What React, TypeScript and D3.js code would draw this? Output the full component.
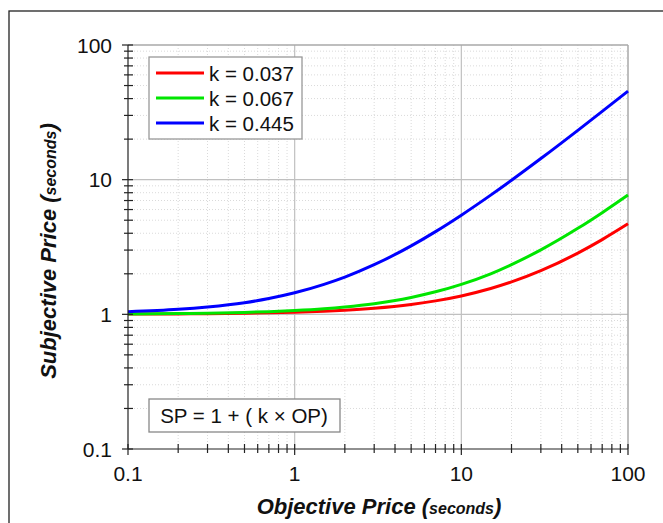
import * as d3 from "d3";

// objective price samples (seconds) and subjective price
const opValues = [0.1, 0.2, 0.3, 0.5, 0.7, 1, 1.5, 2, 3, 5, 7, 10, 15, 20, 30, 50, 70, 100];
const spK037 = [1.004, 1.007, 1.011, 1.019, 1.026, 1.037, 1.056, 1.074, 1.111, 1.185, 1.259, 1.37, 1.555, 1.74, 2.11, 2.85, 3.59, 4.7];
const spK067 = [1.007, 1.013, 1.02, 1.034, 1.047, 1.067, 1.1, 1.134, 1.2, 1.335, 1.47, 1.67, 2.0, 2.34, 3.01, 4.35, 5.69, 7.7];
const spK445 = [1.045, 1.089, 1.134, 1.22, 1.31, 1.445, 1.67, 1.89, 2.335, 3.225, 4.115, 5.45, 7.675, 9.9, 14.35, 23.25, 32.15, 45.5];

const seriesNames = ["k = 0.037", "k = 0.067", "k = 0.445"];
const seriesColors = ["#ff0000", "#00e600", "#0000ff"];
const seriesValues = [spK037, spK067, spK445];

const majorTicks = [0.1, 1, 10, 100];
const tickLabels = ["0.1", "1", "10", "100"];

const W = 663;
const H = 523;
const left = 128, right = 628, top = 45, bottom = 449;

export default function App() {
  const x = d3.scaleLog().domain([0.1, 100]).range([left, right]);
  const y = d3.scaleLog().domain([0.1, 100]).range([bottom, top]);

  const minorTicks: number[] = [];
  for (const d of [0.1, 1, 10]) for (let m = 2; m <= 9; m++) minorTicks.push(d * m);

  const line = d3
    .line<number>()
    .x((_, i) => x(opValues[i]))
    .y((d) => y(d))
    .curve(d3.curveMonotoneX);

  const font = "Arial, 'Liberation Sans', Helvetica, sans-serif";

  return (
    <svg
      width={W}
      height={H}
      style={{ position: "absolute", left: 0, top: 0, background: "#fff" }}
      fontFamily={font}
    >
      {/* outer frame, cut off at right and bottom */}
      <rect x={9} y={11} width={700} height={600} fill="none" stroke="#222" strokeWidth={1.3} />

      {/* grid */}
      <g>
        {minorTicks.map((t) => (
          <line key={"gx" + t} x1={x(t)} x2={x(t)} y1={top} y2={bottom} stroke="#dadada" strokeDasharray="1,2" />
        ))}
        {minorTicks.map((t) => (
          <line key={"gy" + t} y1={y(t)} y2={y(t)} x1={left} x2={right} stroke="#dadada" strokeDasharray="1,2" />
        ))}
        {majorTicks.slice(1, 3).map((t) => (
          <line key={"mx" + t} x1={x(t)} x2={x(t)} y1={top} y2={bottom} stroke="#c0c0c0" strokeWidth={1.2} />
        ))}
        {majorTicks.slice(1, 3).map((t) => (
          <line key={"my" + t} y1={y(t)} y2={y(t)} x1={left} x2={right} stroke="#c0c0c0" strokeWidth={1.2} />
        ))}
        <line x1={left} x2={right} y1={top} y2={top} stroke="#a8a8a8" strokeWidth={1.5} />
        <line x1={right} x2={right} y1={top} y2={bottom} stroke="#a8a8a8" strokeWidth={1.5} />
      </g>

      {/* curves */}
      {seriesValues.map((vals, i) => (
        <path key={i} d={line(vals) || ""} fill="none" stroke={seriesColors[i]} strokeWidth={3} />
      ))}

      {/* axes */}
      <g stroke="#222" strokeWidth={1.2}>
        <line x1={left} x2={left} y1={top} y2={bottom} />
        {majorTicks.map((t) => (
          <line key={"yt" + t} x1={left - 6} x2={left + 5} y1={y(t)} y2={y(t)} />
        ))}
        {minorTicks.map((t) => (
          <line key={"ym" + t} x1={left - 4} x2={left + 5} y1={y(t)} y2={y(t)} />
        ))}
        <line x1={left} x2={right} y1={bottom} y2={bottom} />
        {majorTicks.map((t) => (
          <line key={"xt" + t} y1={bottom - 5} y2={bottom + 6} x1={x(t)} x2={x(t)} />
        ))}
        {minorTicks.map((t) => (
          <line key={"xm" + t} y1={bottom - 5} y2={bottom + 4} x1={x(t)} x2={x(t)} />
        ))}
      </g>

      <g fontSize={21} fill="#111">
        {majorTicks.map((t, i) => (
          <text key={"yl" + t} x={left - 16} y={y(t) + 7.5} textAnchor="end">
            {tickLabels[i]}
          </text>
        ))}
        {majorTicks.map((t, i) => (
          <text key={"xl" + t} x={x(t)} y={481} textAnchor="middle">
            {tickLabels[i]}
          </text>
        ))}
      </g>

      {/* axis titles */}
      <text x={379} y={514} textAnchor="middle" fontWeight="bold" fontStyle="italic" fontSize={22} fill="#111">
        Objective Price (<tspan fontSize={16}>seconds</tspan>)
      </text>
      <text
        transform={`translate(56,${(top + bottom) / 2 + 4}) rotate(-90)`}
        textAnchor="middle"
        fontWeight="bold"
        fontStyle="italic"
        fontSize={22}
        fill="#111"
      >
        Subjective Price (<tspan fontSize={16}>seconds</tspan>)
      </text>

      {/* legend */}
      <g>
        <rect x={149} y={57} width={153} height={82} fill="#fff" stroke="#999" strokeWidth={1.3} />
        {seriesNames.map((name, i) => (
          <g key={name} transform={`translate(0,${73 + i * 25})`}>
            <line x1={156} x2={204} y1={0} y2={0} stroke={seriesColors[i]} strokeWidth={3} />
            <text x={209} y={7.5} fontSize={20.5} fill="#111">
              {name}
            </text>
          </g>
        ))}
      </g>

      {/* formula box */}
      <g>
        <rect x={149} y={399} width={191} height={33} fill="#fff" stroke="#888" strokeWidth={1.3} />
        <text x={244} y={423} textAnchor="middle" fontSize={20.5} fill="#111">
          SP = 1 + ( k × OP)
        </text>
      </g>
    </svg>
  );
}
